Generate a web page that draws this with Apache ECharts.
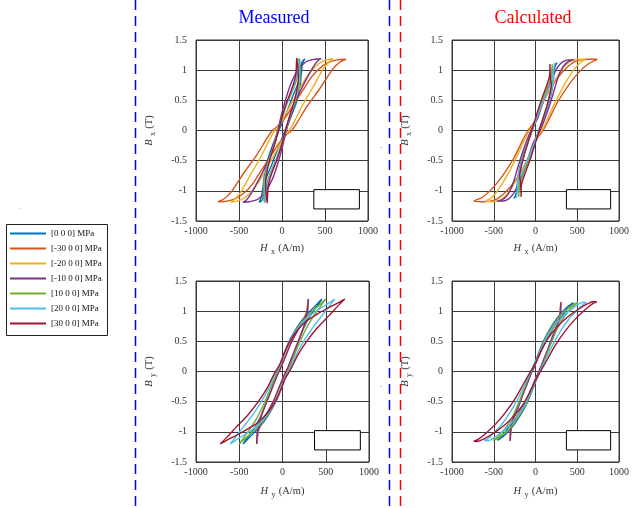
<!DOCTYPE html>
<html><head><meta charset="utf-8">
<script src="https://cdn.jsdelivr.net/npm/echarts@6/dist/echarts.min.js"></script>
<style>html,body{margin:0;padding:0;background:#fff}#c{width:632px;height:508px}</style>
</head><body><div id="c"></div>
<script>
// ---- legend / series
const seriesNames = ['[0 0 0] MPa','[-30 0 0] MPa','[-20 0 0] MPa','[-10 0 0] MPa','[10 0 0] MPa','[20 0 0] MPa','[30 0 0] MPa'];
const seriesColors = ['#0072BD','#D95319','#EDB120','#7E2F8E','#77AC30','#4DBEEE','#A2142F'];
const panelTitles = ['Measured','Calculated'];
const xTickValues = [-1000,-500,0,500,1000];
const yTickValues = [-1.5,-1,-0.5,0,0.5,1,1.5];
const boxH = [370, 900];
const boxB = [-0.98, -1.3];

// ---- Measured Bx (H, B) loops
const mBx_0 = [[265,1.19],[240,1.15],[220,1.08],[212,0.95],[185,0.78],[120,0.55],[40,0.25],[-35,0],[-110,-0.25],[-170,-0.5],[-205,-0.75],[-222,-0.95],[-240,-1.1],[-265,-1.19],[-232,-1.16],[-215,-1.08],[-205,-0.95],[-180,-0.78],[-115,-0.55],[-35,-0.25],[35,0],[110,0.25],[175,0.5],[212,0.75],[225,0.95],[238,1.1],[265,1.19]];
const mBx_m30 = [[745,1.18],[640,1.17],[530,1.12],[430,1.02],[340,0.88],[240,0.66],[130,0.42],[30,0.2],[-50,0.07],[-113,0],[-171,-0.12],[-287,-0.39],[-442,-0.7],[-597,-1.03],[-680,-1.14],[-745,-1.18],[-640,-1.17],[-530,-1.12],[-430,-1.02],[-340,-0.88],[-240,-0.66],[-130,-0.42],[-30,-0.2],[50,-0.07],[113,0],[171,0.12],[287,0.39],[442,0.7],[597,1.03],[680,1.14],[745,1.18]];
const mBx_m20 = [[595,1.19],[520,1.17],[440,1.12],[360,1.02],[270,0.85],[180,0.63],[90,0.4],[15,0.2],[-45,0.06],[-85,0],[-140,-0.14],[-240,-0.42],[-360,-0.72],[-480,-1.02],[-550,-1.14],[-595,-1.19],[-520,-1.17],[-440,-1.12],[-360,-1.02],[-270,-0.85],[-180,-0.63],[-90,-0.4],[-15,-0.2],[45,-0.06],[85,0],[140,0.14],[240,0.42],[360,0.72],[480,1.02],[550,1.14],[595,1.19]];
const mBx_m10 = [[455,1.19],[380,1.18],[280,1.14],[185,1.0],[110,0.8],[50,0.55],[0,0.3],[-50,0],[-86,-0.17],[-163,-0.5],[-279,-0.84],[-376,-1.085],[-420,-1.16],[-455,-1.19],[-380,-1.18],[-280,-1.14],[-185,-1.0],[-110,-0.8],[-50,-0.55],[0,-0.3],[50,0],[86,0.17],[163,0.5],[279,0.84],[376,1.085],[420,1.16],[455,1.19]];
const mBx_10 = [[205,1.19],[195,1.1],[185,0.95],[160,0.8],[105,0.6],[60,0.45],[5,0.22],[-40,0],[-95,-0.25],[-145,-0.45],[-185,-0.65],[-210,-0.85],[-212,-1.0],[-208,-1.12],[-205,-1.19],[-195,-1.1],[-185,-0.95],[-160,-0.8],[-105,-0.6],[-60,-0.45],[-5,-0.22],[40,0],[95,0.25],[145,0.45],[185,0.65],[210,0.85],[212,1.0],[208,1.12],[205,1.19]];
const mBx_20 = [[192,1.19],[185,1.1],[175,0.95],[152,0.8],[98,0.6],[55,0.45],[3,0.22],[-42,0],[-92,-0.25],[-140,-0.45],[-178,-0.65],[-200,-0.85],[-200,-1.0],[-195,-1.12],[-192,-1.19],[-185,-1.1],[-175,-0.95],[-152,-0.8],[-98,-0.6],[-55,-0.45],[-3,-0.22],[42,0],[92,0.25],[140,0.45],[178,0.65],[200,0.85],[200,1.0],[195,1.12],[192,1.19]];
const mBx_30 = [[172,1.2],[168,1.1],[162,0.95],[140,0.8],[90,0.6],[50,0.45],[0,0.22],[-40,0],[-90,-0.25],[-135,-0.45],[-170,-0.65],[-190,-0.85],[-188,-1.0],[-178,-1.12],[-172,-1.2],[-168,-1.1],[-162,-0.95],[-140,-0.8],[-90,-0.6],[-50,-0.45],[0,-0.22],[40,0],[90,0.25],[135,0.45],[170,0.65],[190,0.85],[188,1.0],[178,1.12],[172,1.2]];

// ---- Calculated Bx loops
const cBx_0 = [[262,1.12],[245,1.1],[225,1.0],[205,0.88],[160,0.72],[100,0.52],[40,0.3],[-40,0],[-100,-0.22],[-150,-0.42],[-190,-0.62],[-215,-0.82],[-222,-0.98],[-240,-1.1],[-262,-1.12],[-245,-1.1],[-225,-1.0],[-205,-0.88],[-160,-0.72],[-100,-0.52],[-40,-0.3],[40,0],[100,0.22],[150,0.42],[190,0.62],[215,0.82],[222,0.98],[240,1.1],[262,1.12]];
const cBx_m30 = [[740,1.18],[640,1.18],[540,1.17],[470,1.14],[380,1.05],[280,0.9],[190,0.72],[110,0.52],[40,0.3],[-20,0.13],[-90,0],[-160,-0.18],[-260,-0.46],[-400,-0.76],[-530,-0.98],[-640,-1.11],[-740,-1.17],[-640,-1.18],[-540,-1.17],[-470,-1.14],[-380,-1.05],[-280,-0.9],[-190,-0.72],[-110,-0.52],[-40,-0.3],[20,-0.13],[90,0],[160,0.18],[260,0.46],[400,0.76],[530,0.98],[640,1.11],[740,1.18]];
const cBx_m20 = [[600,1.18],[520,1.18],[440,1.16],[370,1.1],[300,0.98],[220,0.8],[140,0.6],[70,0.4],[10,0.2],[-40,0.06],[-75,0],[-130,-0.15],[-220,-0.42],[-330,-0.72],[-440,-0.97],[-530,-1.12],[-600,-1.17],[-520,-1.18],[-440,-1.16],[-370,-1.1],[-300,-0.98],[-220,-0.8],[-140,-0.6],[-70,-0.4],[-10,-0.2],[40,-0.06],[75,0],[130,0.15],[220,0.42],[330,0.72],[440,0.97],[530,1.12],[600,1.18]];
const cBx_m10 = [[460,1.17],[400,1.17],[330,1.14],[270,1.06],[210,0.9],[150,0.7],[85,0.45],[25,0.2],[-55,0],[-100,-0.15],[-160,-0.38],[-220,-0.65],[-270,-0.88],[-330,-1.06],[-400,-1.15],[-460,-1.17],[-400,-1.17],[-330,-1.14],[-270,-1.06],[-210,-0.9],[-150,-0.7],[-85,-0.45],[-25,-0.2],[55,0],[100,0.15],[160,0.38],[220,0.65],[270,0.88],[330,1.06],[400,1.15],[460,1.17]];
const cBx_10 = [[200,1.1],[195,0.98],[185,0.88],[150,0.74],[100,0.56],[45,0.35],[0,0.17],[-42,0],[-90,-0.2],[-140,-0.42],[-180,-0.62],[-200,-0.78],[-200,-0.9],[-200,-1.0],[-200,-1.1],[-195,-0.98],[-185,-0.88],[-150,-0.74],[-100,-0.56],[-45,-0.35],[0,-0.17],[42,0],[90,0.2],[140,0.42],[180,0.62],[200,0.78],[200,0.9],[200,1.0],[200,1.1]];
const cBx_20 = [[230,1.12],[222,1.05],[210,0.92],[175,0.76],[115,0.56],[55,0.35],[5,0.17],[-40,0],[-95,-0.2],[-145,-0.42],[-185,-0.62],[-210,-0.8],[-215,-0.95],[-222,-1.05],[-230,-1.12],[-222,-1.05],[-210,-0.92],[-175,-0.76],[-115,-0.56],[-55,-0.35],[-5,-0.17],[40,0],[95,0.2],[145,0.42],[185,0.62],[210,0.8],[215,0.95],[222,1.05],[230,1.12]];
const cBx_30 = [[172,1.1],[172,0.98],[165,0.88],[135,0.75],[90,0.58],[40,0.38],[-5,0.18],[-45,0],[-90,-0.2],[-135,-0.4],[-170,-0.6],[-190,-0.75],[-180,-0.85],[-175,-0.98],[-172,-1.1],[-172,-0.98],[-165,-0.88],[-135,-0.75],[-90,-0.58],[-40,-0.38],[5,-0.18],[45,0],[90,0.2],[135,0.4],[170,0.6],[190,0.75],[180,0.85],[175,0.98],[172,1.1]];

// ---- Measured By loops
const mBy_0 = [[455,1.2],[400,1.12],[340,1.03],[265,0.92],[180,0.76],[105,0.58],[45,0.4],[0,0.22],[-45,0.05],[-90,-0.12],[-145,-0.35],[-210,-0.6],[-290,-0.85],[-370,-1.03],[-425,-1.13],[-455,-1.2],[-400,-1.12],[-340,-1.03],[-265,-0.92],[-180,-0.76],[-105,-0.58],[-45,-0.4],[0,-0.22],[45,-0.05],[90,0.12],[145,0.35],[210,0.6],[290,0.85],[370,1.03],[425,1.13],[455,1.2]];
const mBy_m30 = [[295,1.2],[288,1.08],[276,0.97],[226,0.82],[156,0.64],[92,0.46],[32,0.25],[-22,0.06],[-62,-0.06],[-112,-0.24],[-167,-0.44],[-227,-0.66],[-268,-0.85],[-286,-1.0],[-292,-1.1],[-295,-1.2],[-288,-1.08],[-276,-0.97],[-226,-0.82],[-156,-0.64],[-92,-0.46],[-32,-0.25],[22,-0.06],[62,0.06],[112,0.24],[167,0.44],[227,0.66],[268,0.85],[286,1.0],[292,1.1],[295,1.2]];
const mBy_m20 = [[298,1.2],[290,1.08],[278,0.97],[228,0.82],[158,0.64],[94,0.46],[34,0.25],[-21,0.06],[-61,-0.06],[-111,-0.24],[-166,-0.44],[-226,-0.66],[-269,-0.85],[-288,-1.0],[-294,-1.1],[-298,-1.2],[-290,-1.08],[-278,-0.97],[-228,-0.82],[-158,-0.64],[-94,-0.46],[-34,-0.25],[21,-0.06],[61,0.06],[111,0.24],[166,0.44],[226,0.66],[269,0.85],[288,1.0],[294,1.1],[298,1.2]];
const mBy_m10 = [[300,1.2],[292,1.08],[280,0.97],[230,0.82],[160,0.64],[95,0.46],[35,0.25],[-20,0.06],[-60,-0.06],[-110,-0.24],[-165,-0.44],[-225,-0.66],[-270,-0.85],[-290,-1.0],[-296,-1.1],[-300,-1.2],[-292,-1.08],[-280,-0.97],[-230,-0.82],[-160,-0.64],[-95,-0.46],[-35,-0.25],[20,-0.06],[60,0.06],[110,0.24],[165,0.44],[225,0.66],[270,0.85],[290,1.0],[296,1.1],[300,1.2]];
const mBy_10 = [[500,1.2],[440,1.12],[370,1.03],[290,0.92],[200,0.78],[120,0.6],[55,0.42],[0,0.22],[-45,0.05],[-90,-0.1],[-150,-0.32],[-220,-0.55],[-300,-0.78],[-390,-0.98],[-460,-1.12],[-500,-1.2],[-440,-1.12],[-370,-1.03],[-290,-0.92],[-200,-0.78],[-120,-0.6],[-55,-0.42],[0,-0.22],[45,-0.05],[90,0.1],[150,0.32],[220,0.55],[300,0.78],[390,0.98],[460,1.12],[500,1.2]];
const mBy_20 = [[605,1.2],[520,1.12],[430,1.04],[340,0.95],[240,0.82],[150,0.66],[75,0.48],[15,0.28],[-35,0.1],[-90,-0.05],[-160,-0.28],[-245,-0.5],[-345,-0.72],[-460,-0.93],[-550,-1.1],[-605,-1.2],[-520,-1.12],[-430,-1.04],[-340,-0.95],[-240,-0.82],[-150,-0.66],[-75,-0.48],[-15,-0.28],[35,-0.1],[90,0.05],[160,0.28],[245,0.5],[345,0.72],[460,0.93],[550,1.1],[605,1.2]];
const mBy_30 = [[720,1.2],[620,1.12],[510,1.04],[400,0.95],[280,0.84],[170,0.68],[85,0.5],[20,0.3],[-30,0.12],[-100,-0.05],[-180,-0.28],[-280,-0.5],[-400,-0.72],[-540,-0.93],[-650,-1.1],[-720,-1.2],[-620,-1.12],[-510,-1.04],[-400,-0.95],[-280,-0.84],[-170,-0.68],[-85,-0.5],[-20,-0.3],[30,-0.12],[100,0.05],[180,0.28],[280,0.5],[400,0.72],[540,0.93],[650,1.1],[720,1.2]];

// ---- Calculated By loops
const cBy_0 = [[455,1.14],[430,1.12],[380,1.07],[315,0.98],[245,0.86],[170,0.7],[100,0.52],[35,0.3],[-15,0.12],[-65,-0.05],[-120,-0.26],[-180,-0.5],[-250,-0.74],[-330,-0.94],[-400,-1.07],[-440,-1.12],[-455,-1.14],[-430,-1.12],[-380,-1.07],[-315,-0.98],[-245,-0.86],[-170,-0.7],[-100,-0.52],[-35,-0.3],[15,-0.12],[65,0.05],[120,0.26],[180,0.5],[250,0.74],[330,0.94],[400,1.07],[440,1.12],[455,1.14]];
const cBy_m30 = [[302,1.15],[298,1.0],[288,0.88],[238,0.78],[168,0.62],[98,0.44],[33,0.24],[-22,0.06],[-62,-0.06],[-112,-0.24],[-172,-0.44],[-232,-0.66],[-276,-0.82],[-290,-0.9],[-297,-1.02],[-302,-1.15],[-298,-1.0],[-288,-0.88],[-238,-0.78],[-168,-0.62],[-98,-0.44],[-33,-0.24],[22,-0.06],[62,0.06],[112,0.24],[172,0.44],[232,0.66],[276,0.82],[290,0.9],[297,1.02],[302,1.15]];
const cBy_m20 = [[304,1.15],[299,1.0],[289,0.88],[239,0.78],[169,0.62],[99,0.44],[34,0.24],[-21,0.06],[-61,-0.06],[-111,-0.24],[-171,-0.44],[-231,-0.66],[-275,-0.82],[-290,-0.9],[-298,-1.02],[-304,-1.15],[-299,-1.0],[-289,-0.88],[-239,-0.78],[-169,-0.62],[-99,-0.44],[-34,-0.24],[21,-0.06],[61,0.06],[111,0.24],[171,0.44],[231,0.66],[275,0.82],[290,0.9],[298,1.02],[304,1.15]];
const cBy_m10 = [[305,1.15],[300,1.0],[290,0.88],[240,0.78],[170,0.62],[100,0.44],[35,0.24],[-20,0.06],[-60,-0.06],[-110,-0.24],[-170,-0.44],[-230,-0.66],[-275,-0.82],[-290,-0.9],[-298,-1.02],[-305,-1.15],[-300,-1.0],[-290,-0.88],[-240,-0.78],[-170,-0.62],[-100,-0.44],[-35,-0.24],[20,-0.06],[60,0.06],[110,0.24],[170,0.44],[230,0.66],[275,0.82],[290,0.9],[298,1.02],[305,1.15]];
const cBy_10 = [[510,1.14],[480,1.13],[420,1.08],[350,1.0],[270,0.88],[190,0.72],[110,0.53],[40,0.3],[-15,0.12],[-70,-0.05],[-125,-0.25],[-190,-0.48],[-265,-0.72],[-350,-0.92],[-430,-1.06],[-485,-1.12],[-510,-1.14],[-480,-1.13],[-420,-1.08],[-350,-1.0],[-270,-0.88],[-190,-0.72],[-110,-0.53],[-40,-0.3],[15,-0.12],[70,0.05],[125,0.25],[190,0.48],[265,0.72],[350,0.92],[430,1.06],[485,1.12],[510,1.14]];
const cBy_20 = [[610,1.14],[580,1.15],[510,1.11],[420,1.02],[320,0.9],[220,0.74],[130,0.55],[50,0.32],[-10,0.13],[-70,-0.05],[-130,-0.22],[-210,-0.45],[-300,-0.67],[-400,-0.87],[-500,-1.02],[-575,-1.12],[-610,-1.14],[-580,-1.15],[-510,-1.11],[-420,-1.02],[-320,-0.9],[-220,-0.74],[-130,-0.55],[-50,-0.32],[10,-0.13],[70,0.05],[130,0.22],[210,0.45],[300,0.67],[400,0.87],[500,1.02],[575,1.12],[610,1.14]];
const cBy_30 = [[735,1.15],[700,1.16],[620,1.12],[500,1.02],[380,0.9],[260,0.74],[150,0.55],[60,0.32],[-10,0.12],[-80,-0.05],[-150,-0.22],[-240,-0.44],[-350,-0.66],[-470,-0.86],[-590,-1.02],[-690,-1.13],[-735,-1.15],[-700,-1.16],[-620,-1.12],[-500,-1.02],[-380,-0.9],[-260,-0.74],[-150,-0.55],[-60,-0.32],[10,-0.12],[80,0.05],[150,0.22],[240,0.44],[350,0.66],[470,0.86],[590,1.02],[690,1.13],[735,1.15]];

const panelLoops = [
  [mBx_0, mBx_m30, mBx_m20, mBx_m10, mBx_10, mBx_20, mBx_30],
  [cBx_0, cBx_m30, cBx_m20, cBx_m10, cBx_10, cBx_20, cBx_30],
  [mBy_0, mBy_m30, mBy_m20, mBy_m10, mBy_10, mBy_20, mBy_30],
  [cBy_0, cBy_m30, cBy_m20, cBy_m10, cBy_10, cBy_20, cBy_30]
];
const panelSub = ['x','x','y','y'];

// ---- layout
const grids = [
  {left:196, top:40, width:172, height:181},
  {left:452, top:40, width:172, height:181},
  {left:196, top:281, width:173, height:181},
  {left:452, top:281, width:172, height:181}
];
const FONT = 'Liberation Serif';
const richName = {
  i:{fontStyle:'italic', fontSize:10.5, fontFamily:FONT, color:'#333', lineHeight:16},
  s:{fontSize:8, fontFamily:FONT, color:'#333', verticalAlign:'bottom', lineHeight:10},
  n:{fontSize:10.5, fontFamily:FONT, color:'#333', lineHeight:16}
};
const plainNum = v => String(v);

const xAxes = grids.map((g,p)=>({
  gridIndex:p, type:'value', min:-1000, max:1000, interval:500,
  name:'{i|H} {s|'+panelSub[p]+'} {n|(A/m)}', nameLocation:'middle', nameGap:p<2?19:21,
  nameTextStyle:{rich:richName},
  axisLine:{show:false}, axisTick:{show:false},
  axisLabel:{fontFamily:FONT, fontSize:10, color:'#333', margin:5, formatter:plainNum},
  splitLine:{show:true, lineStyle:{color:'#3a3a3a', width:1}}
}));
const yAxes = grids.map((g,p)=>({
  gridIndex:p, type:'value', min:-1.5, max:1.5, interval:0.5,
  name:'{i|B} {s|'+panelSub[p]+'} {n|(T)}', nameLocation:'middle', nameGap:39, nameRotate:90,
  nameTextStyle:{rich:richName},
  axisLine:{show:false}, axisTick:{show:false},
  axisLabel:{fontFamily:FONT, fontSize:10, color:'#333', margin:9, formatter:plainNum},
  splitLine:{show:true, lineStyle:{color:'#3a3a3a', width:1}}
}));

const series = [];
panelLoops.forEach((loops,p)=>{
  loops.forEach((d,i)=>{
    const s = {
      type:'line', name:seriesNames[i], xAxisIndex:p, yAxisIndex:p,
      data:d, symbol:'none', showSymbol:false, smooth:0.3,
      lineStyle:{color:seriesColors[i], width:1.4},
      itemStyle:{color:seriesColors[i]},
      emphasis:{disabled:true}, animation:false, z:3+i
    };
    if(i===0){
      s.markArea = {silent:true, itemStyle:{color:'#fff', borderColor:'#000', borderWidth:1},
        data:[[{coord:[boxH[0],boxB[0]]},{coord:[boxH[1],boxB[1]]}]]};
    }
    series.push(s);
  });
});

const chart = echarts.init(document.getElementById('c'), null, {renderer:'canvas'});
chart.setOption({
  animation:false,
  backgroundColor:'#fff',
  grid: grids.map(g=>Object.assign({show:true, borderColor:'#333', borderWidth:1, containLabel:false}, g)),
  xAxis:xAxes, yAxis:yAxes,
  legend:{
    data:seriesNames, orient:'vertical', left:10, top:227, padding:0,
    icon:'rect', itemWidth:36, itemHeight:2, itemGap:2,
    textStyle:{fontFamily:FONT, fontSize:9, color:'#111', lineHeight:13},
    selectedMode:false
  },
  graphic:[
    {type:'rect', shape:{x:6.5,y:224.5,width:101,height:111}, style:{fill:'none', stroke:'#222', lineWidth:1}, z:100},
    {type:'text', x:274, y:18, style:{text:panelTitles[0], fill:'#0000FF', font:'18px "Liberation Serif"', align:'center', verticalAlign:'middle'}},
    {type:'text', x:533, y:18, style:{text:panelTitles[1], fill:'#FF0000', font:'18px "Liberation Serif"', align:'center', verticalAlign:'middle'}},
    {type:'text', x:20, y:210, style:{text:'\u02C8', fill:'#666', font:'7px "Liberation Serif"', align:'center', verticalAlign:'middle'}},
    {type:'text', x:381, y:147, style:{text:'-', fill:'#888', font:'6px "Liberation Serif"', align:'center', verticalAlign:'middle'}},
    {type:'text', x:381, y:386, style:{text:'-', fill:'#888', font:'6px "Liberation Serif"', align:'center', verticalAlign:'middle'}},
    {type:'line', shape:{x1:135.5,y1:0,x2:135.5,y2:508}, style:{stroke:'#0000FF', lineWidth:1.5, lineDash:[10,6]}},
    {type:'line', shape:{x1:389.5,y1:0,x2:389.5,y2:508}, style:{stroke:'#0000FF', lineWidth:1.5, lineDash:[10,6]}},
    {type:'line', shape:{x1:400.5,y1:0,x2:400.5,y2:508}, style:{stroke:'#FF0000', lineWidth:1.5, lineDash:[10,6]}}
  ],
  series:series
});
</script></body></html>
